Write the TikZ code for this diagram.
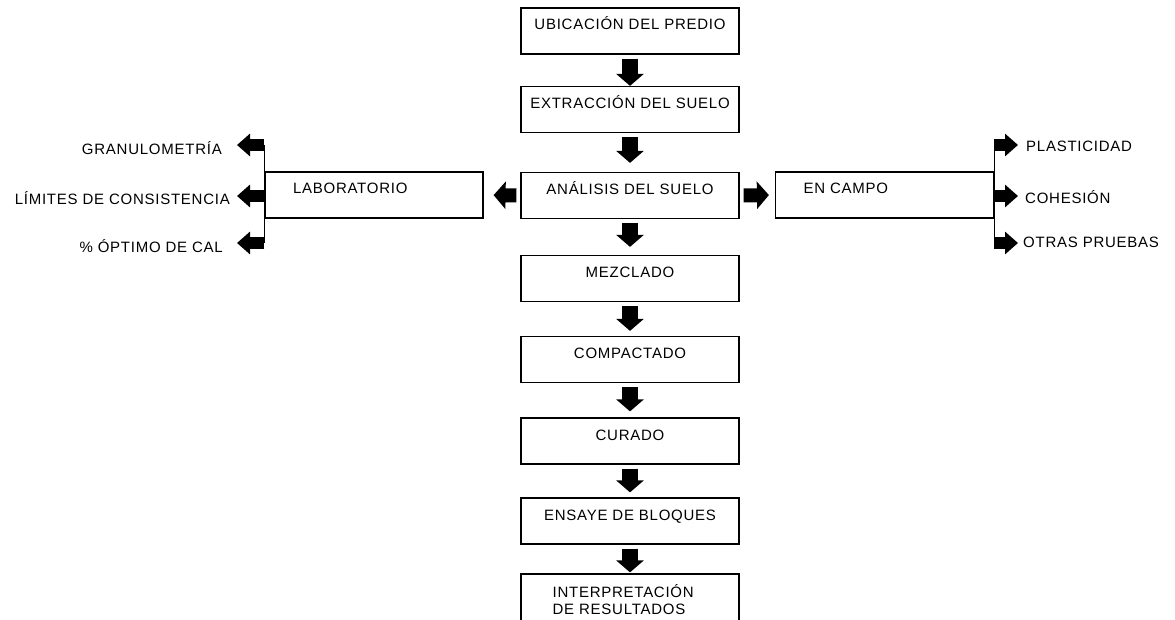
\documentclass[tikz,border=0pt]{standalone}
\usepackage{fontspec}
\setmainfont{Liberation Sans}[LetterSpace=5]
\usetikzlibrary{positioning,arrows.meta}

\begin{document}
\begin{tikzpicture}[
  x=1pt, y=-1pt,
  every node/.style={font=\fontsize{15}{17}\selectfont},
  box/.style={draw, line width=1.2pt, minimum width=218pt, inner sep=0pt,
    text height=22pt, text depth=24pt},
  lado/.style={box, text width=162pt, align=left, inner xsep=28pt},
  lbl/.style={inner sep=0pt, text height=11pt, text depth=0pt},
  flecha/.style={line width=16pt, -{Triangle[width=27pt,length=12pt]}},
  flechita/.style={line width=12pt, -{Triangle[width=22pt,length=13pt]}}
]
\clip (0,0) rectangle (1175,620);
% central column
\node[box] (ubic) at (630,31) {UBICACIÓN DEL PREDIO};
\node[box] (extr) at (630,109.5) {EXTRACCIÓN DEL SUELO};
\node[box] (anal) at (630,195.5) {ANÁLISIS DEL SUELO};
\node[box] (mezc) at (630,278.5) {MEZCLADO};
\node[box] (comp) at (630,359.5) {COMPACTADO};
\node[box] (cura) at (630,441) {CURADO};
\node[box] (ensa) at (630,521) {ENSAYE DE BLOQUES};
\node[box, text depth=30pt] (inte) at (630,600) {};
\node[inner sep=0pt, align=left, anchor=north west] (intetxt)
  at ([xshift=32pt,yshift=-11pt]inte.north west) {INTERPRETACIÓN\\DE RESULTADOS};
\foreach \a/\b/\s in {ubic/extr/0, extr/anal/9, anal/mezc/8, mezc/comp/5,
                      comp/cura/6, cura/ensa/5, ensa/inte/1}
  \draw[flecha, shorten <=4pt, shorten >=\s pt] (\a.south) -- (\b.north);

% side boxes
\node[lado] (lab) at (374,195) {LABORATORIO};
\node[lado] (campo) at (884.5,195) {EN CAMPO};
\draw[flecha, line width=14pt, shorten <=4pt, shorten >=10pt] (anal.west) -- (lab.east);
\draw[flecha, line width=14pt, shorten <=4pt, shorten >=6pt] (anal.east) -- (campo.west);

% laboratory tests
\coordinate (p1) at (237,145);
\coordinate (p2) at (237,196);
\coordinate (p3) at (237,243);
\draw[line width=1.2pt] (lab.west |- p1) -- (lab.west |- p3);
\foreach \p in {p1,p2,p3}
  \draw[flechita] (lab.west |- \p) -- (\p);
\node[lbl, anchor=east] (granu) at (222,149) {GRANULOMETRÍA};
\node[lbl, anchor=east] (limi) at (230,199) {LÍMITES DE CONSISTENCIA};
\node[lbl, anchor=east] (opti) at (223,247) {\% ÓPTIMO DE CAL};

% field tests
\coordinate (q1) at (1018,145);
\coordinate (q2) at (1018,196);
\coordinate (q3) at (1018,243);
\draw[line width=1.2pt] (campo.east |- q1) -- (campo.east |- q3);
\foreach \q in {q1,q2,q3}
  \draw[flechita] (campo.east |- \q) -- (\q);
\node[lbl, anchor=west] (plast) at (1026,146) {PLASTICIDAD};
\node[lbl, anchor=west] (cohe) at (1025,198.5) {COHESIÓN};
\node[lbl, anchor=west] (otras) at (1023,242.5) {OTRAS PRUEBAS};
\end{tikzpicture}
\end{document}
